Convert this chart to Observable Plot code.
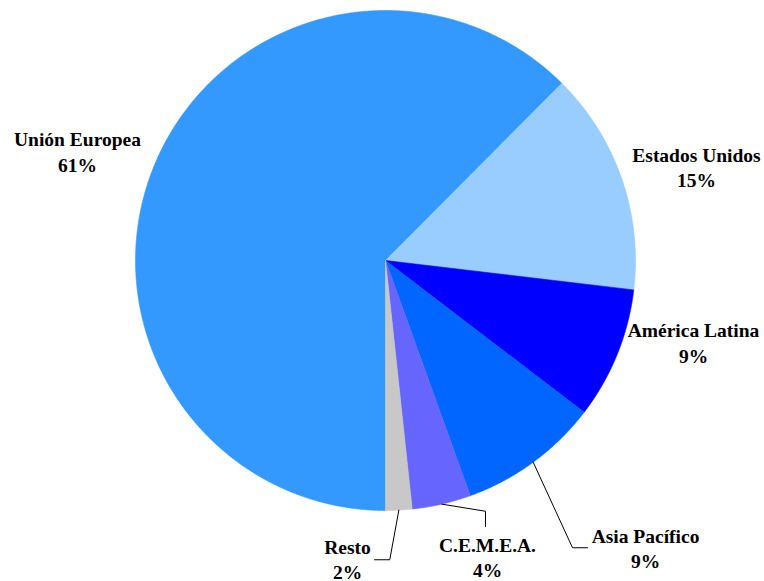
<!DOCTYPE html>
<html>
<head>
<meta charset="utf-8">
<script src="https://cdn.jsdelivr.net/npm/d3@7"></script>
<script src="https://cdn.jsdelivr.net/npm/@observablehq/plot@0.6"></script>
<style>
  html, body { margin: 0; padding: 0; background: #ffffff; }
  #chart svg { display: block; }
  #chart svg text, #chart svg tspan { font-family: "Liberation Serif", "Times New Roman", serif !important; }
</style>
</head>
<body>
<div id="chart"></div>
<script>
// ---- data ----
const categories = ["Unión Europea", "Estados Unidos", "América Latina", "Asia Pacífico", "C.E.M.E.A.", "Resto"];
const values = [62.4, 14.4, 8.5, 9.1, 3.8, 1.7];
const percentLabels = ["61%", "15%", "9%", "9%", "4%", "2%"];
const colors = ["#3399FF", "#99CCFF", "#0000FF", "#0066FF", "#6666FF", "#C8C8C8"];

// ---- layout (in radius units, pie centred at 0,0) ----
const labelPos = [
  [-1.232, 0.438],
  [1.244, 0.376],
  [1.232, -0.326],
  [1.04, -1.148],
  [0.408, -1.184],
  [-0.152, -1.192]
];
// leader line elbows/ends for small slices (index -> points after arc midpoint)
const leaderPath = {
  3: [[0.748, -1.149], [0.808, -1.149]],
  4: [[0.40, -1.003], [0.40, -1.064]],
  5: [[0.017, -1.197], [-0.044, -1.197]]
};

const arcs = d3.pie().sort(null).startAngle(Math.PI).endAngle(3 * Math.PI)(values);

const slicePts = [];
arcs.forEach((a, i) => {
  const name = categories[i];
  slicePts.push({name, color: colors[i], x: 0, y: 0});
  const n = Math.max(2, Math.ceil((a.endAngle - a.startAngle) / 0.005));
  for (let k = 0; k <= n; k++) {
    const t = a.startAngle + (a.endAngle - a.startAngle) * k / n;
    slicePts.push({name, color: colors[i], x: Math.sin(t), y: Math.cos(t)});
  }
  slicePts.push({name, color: colors[i], x: 0, y: 0});
});

const leaders = [];
Object.entries(leaderPath).forEach(([idx, pts]) => {
  const a = arcs[+idx];
  const m = (a.startAngle + a.endAngle) / 2;
  leaders.push({id: idx, x: Math.sin(m), y: Math.cos(m)});
  pts.forEach(p => leaders.push({id: idx, x: p[0], y: p[1]}));
});

const labels = categories.map((c, i) => ({
  text: c + "\n" + percentLabels[i],
  x: labelPos[i][0],
  y: labelPos[i][1]
}));

const chart = Plot.plot({
  width: 764,
  height: 581,
  margin: 0,
  x: {domain: [-1, 1], range: [135, 635], axis: null},
  y: {domain: [-1, 1], range: [510, 10], axis: null},
  color: {type: "identity"},
  marks: [
    Plot.line(slicePts, {x: "x", y: "y", z: "name", fill: "color", stroke: "color", strokeWidth: 0.6, curve: "linear"}),
    Plot.line(leaders, {x: "x", y: "y", z: "id", stroke: "black", strokeWidth: 1}),
    Plot.text(labels, {
      x: "x", y: "y", text: "text",
      fontFamily: "Liberation Serif",
      fontWeight: "bold",
      fontSize: 19.5,
      lineHeight: 1.3,
      fill: "black"
    })
  ]
});
document.getElementById("chart").appendChild(chart);
</script>
</body>
</html>
